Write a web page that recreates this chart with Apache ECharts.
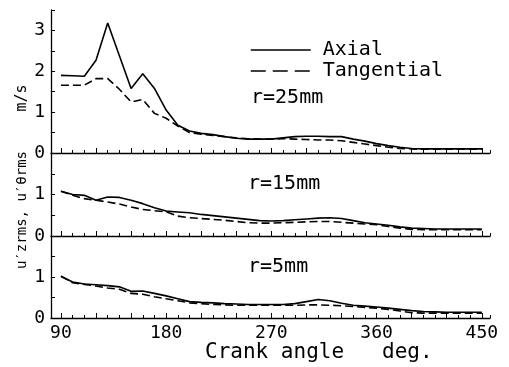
<!DOCTYPE html>
<html>
<head>
<meta charset="utf-8">
<script src="https://cdn.jsdelivr.net/npm/echarts@6/dist/echarts.min.js"></script>
<style>
  html, body { margin: 0; padding: 0; background: #fff; }
  #chart { width: 509px; height: 367px; }
</style>
</head>
<body>
<div id="chart"></div>
<script>
// Crank angle samples (deg)
const angles = [90, 100, 110, 120, 130, 140, 150, 160, 170, 180, 190, 200, 210, 220, 230, 240, 250, 260, 270,
                280, 290, 300, 310, 320, 330, 340, 350, 360, 370, 380, 390, 400, 410, 420, 430, 440, 450];

// r = 25 mm
const axial25 = [1.90, 1.89, 1.88, 2.27, 3.18, 2.38, 1.58, 1.94, 1.58, 1.05, 0.68, 0.54, 0.48, 0.45, 0.40, 0.36, 0.34, 0.34, 0.34,
                 0.37, 0.40, 0.41, 0.41, 0.40, 0.40, 0.34, 0.29, 0.23, 0.18, 0.14, 0.11, 0.10, 0.10, 0.10, 0.10, 0.10, 0.10];
const tang25  = [1.66, 1.66, 1.66, 1.82, 1.82, 1.56, 1.25, 1.31, 0.97, 0.85, 0.66, 0.50, 0.46, 0.43, 0.40, 0.37, 0.35, 0.34, 0.34,
                 0.35, 0.34, 0.33, 0.32, 0.32, 0.30, 0.26, 0.22, 0.18, 0.14, 0.11, 0.10, 0.09, 0.09, 0.09, 0.09, 0.09, 0.09];

// r = 15 mm
const axial15 = [1.08, 1.00, 0.98, 0.86, 0.94, 0.93, 0.86, 0.78, 0.68, 0.60, 0.58, 0.56, 0.52, 0.49, 0.46, 0.43, 0.40, 0.37, 0.36,
                 0.37, 0.39, 0.41, 0.43, 0.44, 0.42, 0.37, 0.32, 0.29, 0.26, 0.22, 0.19, 0.18, 0.17, 0.17, 0.17, 0.17, 0.17];
const tang15  = [1.08, 0.98, 0.90, 0.86, 0.82, 0.77, 0.70, 0.64, 0.61, 0.58, 0.48, 0.44, 0.42, 0.40, 0.38, 0.35, 0.32, 0.31, 0.31,
                 0.32, 0.33, 0.34, 0.35, 0.35, 0.33, 0.31, 0.29, 0.27, 0.23, 0.19, 0.16, 0.15, 0.15, 0.15, 0.15, 0.15, 0.15];

// r = 5 mm
const axial5  = [1.02, 0.88, 0.83, 0.81, 0.79, 0.76, 0.65, 0.66, 0.60, 0.54, 0.47, 0.40, 0.38, 0.37, 0.35, 0.34, 0.33, 0.33, 0.33,
                 0.33, 0.35, 0.40, 0.45, 0.42, 0.36, 0.31, 0.29, 0.27, 0.24, 0.21, 0.18, 0.16, 0.15, 0.14, 0.14, 0.14, 0.14];
const tang5   = [1.02, 0.86, 0.82, 0.78, 0.73, 0.70, 0.60, 0.58, 0.52, 0.47, 0.42, 0.37, 0.35, 0.33, 0.32, 0.31, 0.31, 0.31, 0.31,
                 0.31, 0.31, 0.32, 0.32, 0.31, 0.30, 0.28, 0.26, 0.24, 0.21, 0.17, 0.13, 0.12, 0.12, 0.12, 0.12, 0.12, 0.12];

// Axis ticks and labels
const xLabelValues = [90, 180, 270, 360, 450];
const xMinorTicks = [90, 100, 110, 120, 130, 140, 150, 160, 170, 180, 190, 200, 210, 220, 230, 240, 250, 260, 270,
                     280, 290, 300, 310, 320, 330, 340, 350, 360, 370, 380, 390, 400, 410, 420, 430, 440, 450, 457];
const xMajorTicks = [90, 120, 150, 180, 210, 240, 270, 300, 330, 360, 390, 420, 450];
const panelLabels = ['r=25mm', 'r=15mm', 'r=5mm'];

const FONT = 'DejaVu Sans Mono';
const INK = '#000';
const X_MIN = 81.5, X_MAX = 457;

const pairs = (vals) => angles.map((a, i) => [a, vals[i]]);

const grids = [
  { left: 51, right: 19, top: 10, height: 143 },
  { left: 51, right: 19, top: 153, height: 83 },
  { left: 51, right: 19, top: 236, height: 82 }
];

function mainX(i) {
  const last = i === 2;
  return {
    type: 'value', gridIndex: i, min: X_MIN, max: X_MAX, position: 'bottom',
    axisLine: { show: true, onZero: false, lineStyle: { color: INK, width: 1.3 } },
    axisTick: { show: true, inside: true, length: 3, customValues: xMinorTicks, lineStyle: { color: INK, width: 1 } },
    axisLabel: { show: last, customValues: xLabelValues, color: INK, fontFamily: FONT, fontSize: 18, margin: 6 },
    splitLine: { show: false }
  };
}
function majorX(i) {
  return {
    type: 'value', gridIndex: i, min: X_MIN, max: X_MAX, position: 'bottom',
    axisLine: { show: false, onZero: false },
    axisTick: { show: true, inside: true, length: 5, customValues: xMajorTicks, lineStyle: { color: INK, width: 1 } },
    axisLabel: { show: false },
    splitLine: { show: false }
  };
}
function yAx(i, max) {
  return {
    type: 'value', gridIndex: i, min: 0, max: max, interval: 0.5,
    axisLine: { show: true, onZero: false, lineStyle: { color: INK, width: 1.3 } },
    axisTick: { show: true, inside: true, length: 4, lineStyle: { color: INK, width: 1 } },
    axisLabel: {
      color: INK, fontFamily: FONT, fontSize: 18, margin: 6,
      formatter: (v) => (Number.isInteger(v) && (i === 0 || v < 2)) ? String(v) : ''
    },
    splitLine: { show: false }
  };
}

function line(name, vals, axisIdx, dashed) {
  return {
    type: 'line', name: name, data: pairs(vals), xAxisIndex: axisIdx, yAxisIndex: axisIdx,
    symbol: 'none', showSymbol: false, animation: false,
    lineStyle: { color: INK, width: 1.6, type: dashed ? [8, 4] : 'solid' },
    itemStyle: { color: INK }
  };
}

const chart = echarts.init(document.getElementById('chart'), null, { renderer: 'canvas' });
chart.setOption({
  backgroundColor: '#fff',
  animation: false,
  grid: grids,
  xAxis: [mainX(0), mainX(1), mainX(2), majorX(0), majorX(1), majorX(2)],
  yAxis: [yAx(0, 3.5), yAx(1, 2), yAx(2, 2)],
  legend: {
    orient: 'vertical', left: 250, top: 40, padding: 0, itemGap: 1,
    itemWidth: 60, itemHeight: 14,
    data: [
      { name: 'Axial' },
      { name: 'Tangential', lineStyle: { type: [15, 7] } }
    ],
    itemStyle: { opacity: 0 },
    lineStyle: { color: INK, width: 1.5 },
    textStyle: { color: INK, fontFamily: FONT, fontSize: 20, lineHeight: 20, padding: [0, 0, 0, 7] }
  },
  series: [
    line('Axial', axial25, 0, false),
    line('Tangential', tang25, 0, true),
    line('Axial', axial15, 1, false),
    line('Tangential', tang15, 1, true),
    line('Axial', axial5, 2, false),
    line('Tangential', tang5, 2, true)
  ],
  graphic: [
    { type: 'text', left: 251, top: 88, style: { text: panelLabels[0], font: '20px "DejaVu Sans Mono"', fill: INK } },
    { type: 'text', left: 248, top: 174, style: { text: panelLabels[1], font: '20px "DejaVu Sans Mono"', fill: INK } },
    { type: 'text', left: 248, top: 257, style: { text: panelLabels[2], font: '20px "DejaVu Sans Mono"', fill: INK } },
    { type: 'text', left: 205, top: 342, style: { text: 'Crank angle   deg.', font: '21px "DejaVu Sans Mono"', fill: INK } },
    { type: 'text', x: 22, y: 98, rotation: Math.PI / 2,
      style: { text: 'm/s', font: '15px "DejaVu Sans Mono"', fill: INK, align: 'center', verticalAlign: 'middle' } },
    { type: 'text', x: 22, y: 210, rotation: Math.PI / 2,
      style: { text: 'u′zrms, u′θrms', font: '14px "DejaVu Sans Mono"', fill: INK, align: 'center', verticalAlign: 'middle' } }
  ]
});
</script>
</body>
</html>
